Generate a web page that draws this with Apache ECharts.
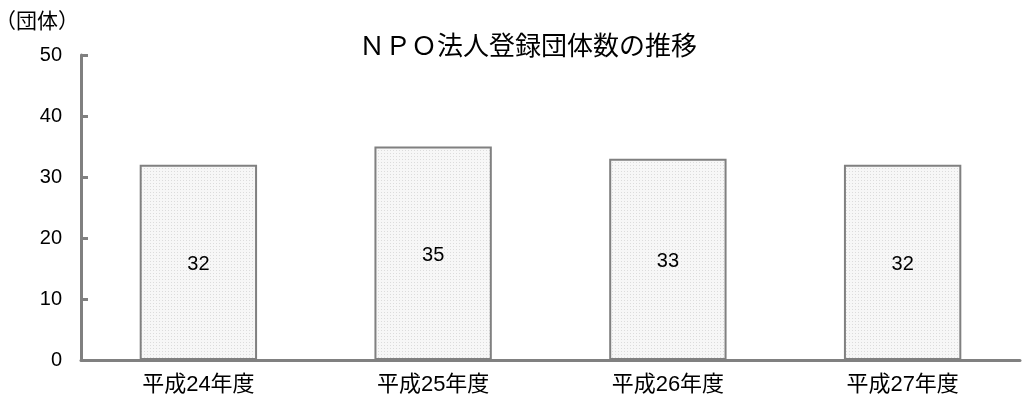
<!DOCTYPE html>
<html>
<head>
<meta charset="utf-8">
<script src="https://cdn.jsdelivr.net/npm/echarts@6/dist/echarts.min.js"></script>
<style>
  html, body { margin: 0; padding: 0; background: #fff; }
  #chart { width: 1023px; height: 404px; }
</style>
</head>
<body>
<div id="chart"></div>
<script>
/* ---------- データ ---------- */
const categories = ['平成24年度', '平成25年度', '平成26年度', '平成27年度']
const counts = [32, 35, 33, 32]
const yTicks = [0, 10, 20, 30, 40, 50]

const fontFamily = '"Liberation Sans", "Noto Sans CJK JP", sans-serif'

/** 点描パターン */
function makeDots() {
  const c = document.createElement('canvas')
  c.width = 3
  c.height = 3
  const ctx = c.getContext('2d')
  ctx.fillStyle = '#f7f7f7'
  ctx.fillRect(0, 0, 3, 3)
  ctx.fillStyle = '#dcdcdc'
  ctx.fillRect(0, 0, 1, 1)
  return c
}

const chart = echarts.init(document.getElementById('chart'))

chart.setOption({
  animation: false,
  title: {
    text: 'ＮＰＯ法人登録団体数の推移',
    left: 354,
    top: 30,
    textStyle: { fontFamily, fontSize: 26, fontWeight: 'normal', color: '#000' }
  },
  grid: { left: 81, right: 3, top: 55, bottom: 44, containLabel: false, outerBoundsMode: 'none' },
  xAxis: {
    type: 'category',
    data: categories,
    axisLine: { lineStyle: { color: '#808080', width: 3 } },
    axisTick: { inside: true, length: 7, lineStyle: { color: '#808080', width: 3 } },
    axisLabel: { fontFamily, fontSize: 22, color: '#000', margin: 14 }
  },
  yAxis: {
    type: 'value',
    min: yTicks[0],
    max: yTicks[yTicks.length - 1],
    interval: 10,
    name: '（団体）',
    nameLocation: 'end',
    nameGap: 22,
    nameTextStyle: { fontFamily, fontSize: 21, color: '#000', align: 'right', padding: [0, 2, 0, 0] },
    axisLine: { show: true, lineStyle: { color: '#808080', width: 3 } },
    axisTick: { show: true, inside: true, length: 7, lineStyle: { color: '#808080', width: 3 } },
    axisLabel: { fontFamily, fontSize: 20, color: '#000', margin: 19 },
    splitLine: { show: false }
  },
  series: [
    {
      type: 'bar',
      data: counts,
      barWidth: '50%',
      itemStyle: {
        color: { image: makeDots(), repeat: 'repeat' },
        borderColor: '#808080',
        borderWidth: 2
      },
      label: {
        show: true,
        position: 'inside',
        offset: [0, 2],
        fontFamily,
        fontSize: 20,
        color: '#000'
      }
    }
  ]
})
</script>
</body>
</html>
